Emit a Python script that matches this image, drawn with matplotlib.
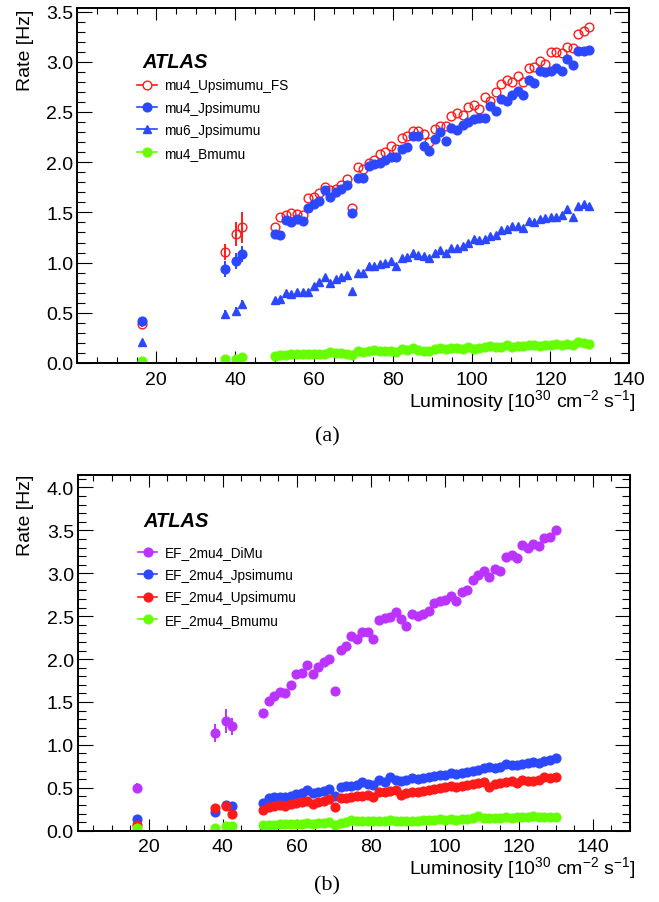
import matplotlib
matplotlib.use("Agg")
import matplotlib.pyplot as plt
from matplotlib.lines import Line2D
from matplotlib.ticker import MultipleLocator

plt.rcParams["font.family"] = ["Liberation Sans", "DejaVu Sans"]
plt.rcParams["mathtext.fontset"] = "custom"
plt.rcParams["mathtext.rm"] = "Liberation Sans"
plt.rcParams["mathtext.it"] = "Liberation Sans:italic"

# ---------------- panel (a) ----------------
a_low_x = [16.3, 37.5, 40.2, 41.7]
a_low_fs = [0.39, 1.11, 1.285, 1.35]
a_low_fs_err = [0.03, 0.08, 0.12, 0.15]
a_low_jpsi = [0.42, 0.935, 1.02, 1.09]
a_low_jpsi_err = [0.03, 0.08, 0.08, 0.08]
a_low_mu6 = [0.205, 0.49, 0.52, 0.59]
a_low_mu6_err = [0.02, 0.04, 0.04, 0.04]
a_low_bmumu = [0.02, 0.04, 0.035, 0.055]
a_low_bmumu_err = [0.01, 0.01, 0.01, 0.01]

a_x = [50.1, 51.5, 52.9, 54.3, 55.7, 57.1, 58.5, 59.9, 61.3, 62.7,
       64.1, 65.5, 66.9, 68.3, 69.7, 71.1, 72.5, 73.9, 75.3, 76.7,
       78.1, 79.5, 80.9, 82.3, 83.7, 85.1, 86.5, 87.9, 89.3, 90.7,
       92.1, 93.5, 94.9, 96.3, 97.7, 99.1, 100.5, 101.9, 103.3, 104.7,
       106.1, 107.5, 108.9, 110.3, 111.7, 113.1, 114.5, 115.9, 117.3, 118.7,
       120.1, 121.5, 122.9, 124.3, 125.7, 127.1, 128.5, 129.9]
a_fs = [1.35, 1.45, 1.47, 1.49, 1.48, 1.47, 1.64, 1.65, 1.69, 1.75,
        1.725, 1.73, 1.775, 1.83, 1.54, 1.95, 1.93, 1.99, 2.025, 2.08,
        2.105, 2.165, 2.13, 2.24, 2.265, 2.315, 2.315, 2.28, 2.20, 2.33,
        2.36, 2.36, 2.46, 2.49, 2.47, 2.55, 2.565, 2.53, 2.645, 2.61,
        2.695, 2.78, 2.82, 2.795, 2.86, 2.795, 2.94, 2.95, 3.01, 2.98,
        3.095, 3.10, 3.085, 3.145, 3.135, 3.28, 3.31, 3.345]
a_jpsi = [1.285, 1.275, 1.42, 1.40, 1.43, 1.41, 1.54, 1.58, 1.61, 1.72,
          1.65, 1.70, 1.73, 1.77, 1.49, 1.84, 1.84, 1.965, 1.98, 1.99,
          2.025, 2.05, 2.055, 2.13, 2.155, 2.26, 2.26, 2.16, 2.115, 2.23,
          2.305, 2.215, 2.34, 2.32, 2.375, 2.40, 2.43, 2.44, 2.44, 2.555,
          2.51, 2.63, 2.61, 2.67, 2.71, 2.67, 2.82, 2.785, 2.905, 2.895,
          2.91, 2.935, 2.91, 3.03, 2.97, 3.11, 3.11, 3.12]
a_mu6 = [0.627, 0.637, 0.697, 0.687, 0.704, 0.704, 0.71, 0.764, 0.804, 0.853,
         0.794, 0.837, 0.853, 0.876, 0.72, 0.896, 0.896, 0.963, 0.963, 0.986,
         0.996, 1.019, 0.969, 1.043, 1.06, 1.10, 1.08, 1.063, 1.046, 1.096,
         1.13, 1.096, 1.145, 1.145, 1.162, 1.20, 1.23, 1.22, 1.23, 1.26,
         1.275, 1.32, 1.33, 1.36, 1.36, 1.34, 1.41, 1.40, 1.435, 1.445,
         1.45, 1.45, 1.47, 1.535, 1.45, 1.56, 1.585, 1.56]
a_bmumu = [0.073, 0.08, 0.08, 0.085, 0.085, 0.09, 0.085, 0.09, 0.09, 0.085,
           0.11, 0.10, 0.10, 0.09, 0.08, 0.12, 0.11, 0.12, 0.13, 0.12,
           0.12, 0.12, 0.11, 0.135, 0.13, 0.145, 0.125, 0.12, 0.12, 0.135,
           0.145, 0.135, 0.145, 0.145, 0.14, 0.155, 0.135, 0.15, 0.16, 0.17,
           0.16, 0.16, 0.175, 0.16, 0.165, 0.17, 0.175, 0.18, 0.165, 0.18,
           0.18, 0.185, 0.18, 0.19, 0.175, 0.205, 0.195, 0.19]
a_labels = ["mu4_Upsimumu_FS", "mu4_Jpsimumu", "mu6_Jpsimumu", "mu4_Bmumu"]

# ---------------- panel (b) ----------------
b_low_x = [16.8, 37.8, 41.0, 42.4]
b_low_dimu = [0.494, 1.139, 1.282, 1.217]
b_low_dimu_err = [0.06, 0.10, 0.14, 0.10]
b_low_jpsi = [0.136, 0.214, 0.303, 0.291]
b_low_jpsi_err = [0.02, 0.02, 0.03, 0.03]
b_low_ups = [0.066, 0.261, 0.284, 0.195]
b_low_ups_err = [0.01, 0.02, 0.03, 0.03]
b_low_bmumu = [0.03, 0.03, 0.05, 0.05]
b_low_bmumu_err = [0.01, 0.01, 0.01, 0.01]

b_x = [50.9, 52.4, 53.9, 55.4, 56.9, 58.4, 59.8, 61.3, 62.8, 64.3,
       65.8, 67.3, 68.8, 70.3, 71.8, 73.3, 74.7, 76.2, 77.7, 79.2,
       80.7, 82.2, 83.7, 85.2, 86.7, 88.2, 89.6, 91.1, 92.6, 94.1,
       95.6, 97.1, 98.6, 100.1, 101.6, 103.1, 104.5, 106.0, 107.5, 109.0,
       110.5, 112.0, 113.5, 115.0, 116.5, 118.0, 119.4, 120.9, 122.4, 123.9,
       125.4, 126.9, 128.4, 129.9]
b_dimu = [1.368, 1.515, 1.573, 1.620, 1.601, 1.702, 1.826, 1.834, 1.935, 1.826,
          1.904, 1.970, 2.001, 1.625, 2.106, 2.156, 2.266, 2.234, 2.312, 2.312,
          2.234, 2.459, 2.475, 2.487, 2.552, 2.467, 2.389, 2.526, 2.506, 2.526,
          2.564, 2.650, 2.673, 2.692, 2.739, 2.681, 2.786, 2.809, 2.925, 2.980,
          3.030, 2.953, 3.050, 3.023, 3.186, 3.217, 3.175, 3.330, 3.295, 3.341,
          3.322, 3.411, 3.420, 3.508]
b_jpsi = [0.319, 0.381, 0.389, 0.389, 0.389, 0.401, 0.428, 0.436, 0.474, 0.436,
          0.455, 0.466, 0.486, 0.408, 0.513, 0.517, 0.524, 0.532, 0.564, 0.544,
          0.532, 0.594, 0.564, 0.622, 0.591, 0.583, 0.591, 0.614, 0.603, 0.610,
          0.622, 0.634, 0.649, 0.649, 0.672, 0.661, 0.672, 0.688, 0.699, 0.711,
          0.727, 0.739, 0.727, 0.746, 0.777, 0.766, 0.766, 0.777, 0.789, 0.804,
          0.789, 0.816, 0.828, 0.844]
b_ups = [0.241, 0.273, 0.292, 0.300, 0.292, 0.311, 0.323, 0.338, 0.340, 0.310,
         0.330, 0.350, 0.365, 0.273, 0.377, 0.377, 0.396, 0.401, 0.408, 0.416,
         0.389, 0.447, 0.455, 0.459, 0.478, 0.416, 0.436, 0.447, 0.455, 0.466,
         0.474, 0.486, 0.494, 0.505, 0.517, 0.505, 0.524, 0.532, 0.544, 0.552,
         0.564, 0.505, 0.544, 0.552, 0.571, 0.575, 0.556, 0.591, 0.583, 0.583,
         0.591, 0.622, 0.614, 0.622]
b_bmumu = [0.066, 0.066, 0.070, 0.075, 0.078, 0.078, 0.078, 0.080, 0.086, 0.078,
           0.086, 0.090, 0.097, 0.066, 0.090, 0.105, 0.128, 0.117, 0.117, 0.109,
           0.117, 0.109, 0.117, 0.128, 0.117, 0.117, 0.117, 0.117, 0.117, 0.128,
           0.128, 0.128, 0.136, 0.128, 0.136, 0.128, 0.136, 0.136, 0.144, 0.167,
           0.144, 0.144, 0.144, 0.148, 0.156, 0.148, 0.156, 0.156, 0.156, 0.167,
           0.156, 0.156, 0.156, 0.156]
b_labels = ["EF_2mu4_DiMu", "EF_2mu4_Jpsimumu", "EF_2mu4_Upsimumu", "EF_2mu4_Bmumu"]

RED = "#ff1a1a"
BLUE = "#2b48ff"
GREEN = "#66ff00"
PURPLE = "#bb33ff"
MS = 6.3
TICK_FS = 14


def style_axes(ax, xlim, ylim):
    ax.set_xlim(*xlim)
    ax.set_ylim(*ylim)
    ax.yaxis.set_major_locator(MultipleLocator(0.5))
    ax.yaxis.set_minor_locator(MultipleLocator(0.1))
    ticks = [20, 40, 60, 80, 100, 120, 140]
    ax.set_xticks(ticks)
    ax.set_xticklabels(["%d" % t for t in ticks])
    ax.xaxis.set_minor_locator(MultipleLocator(5))
    ax.tick_params(which="both", direction="in", top=True, right=True,
                   width=0.8, labelsize=TICK_FS)
    ax.tick_params(axis="x", which="major", length=8.6, pad=5.5)
    ax.tick_params(axis="x", which="minor", length=4.3)
    ax.tick_params(axis="y", which="major", length=10.8, pad=3.0)
    ax.tick_params(axis="y", which="minor", length=5.8)
    for s in ax.spines.values():
        s.set_linewidth(1.4)


def draw(ax, x, y, low_x, low_y, low_err, color, marker, hollow=False):
    mfc = "none" if hollow else color
    ax.errorbar(low_x, low_y, yerr=low_err, fmt=marker, ms=MS, mfc=mfc,
                mec=color, mew=1.0, ecolor=color, elinewidth=1.4, capsize=0)
    ax.plot(x, y, marker, ls="none", ms=MS, mfc=mfc, mec=color, mew=1.0)


def handle(color, marker, hollow=False):
    mfc = "white" if hollow else color
    return Line2D([], [], color=color, lw=1.2, marker=marker, ms=MS,
                  mfc=mfc, mec=color, mew=1.0)


def add_legend(ax, handles, labels, y_atlas):
    ax.text(0.118, y_atlas, "ATLAS", transform=ax.transAxes, fontsize=14.5,
            fontweight="bold", fontstyle="italic", va="center")
    ax.legend(handles, labels, loc="upper left", bbox_to_anchor=(0.108, 0.802),
              frameon=False, fontsize=9.8, handlelength=1.45, handletextpad=0.55,
              labelspacing=0.62, borderpad=0, borderaxespad=0)


fig = plt.figure(figsize=(6.59, 9.03), dpi=100)

# (a)
ax = fig.add_axes([0.1176, 0.5969, 0.8372, 0.3931])
draw(ax, a_x, a_fs, a_low_x, a_low_fs, a_low_fs_err, RED, "o", hollow=True)
draw(ax, a_x, a_jpsi, a_low_x, a_low_jpsi, a_low_jpsi_err, BLUE, "o")
draw(ax, a_x, a_mu6, a_low_x, a_low_mu6, a_low_mu6_err, BLUE, "^")
draw(ax, a_x, a_bmumu, a_low_x, a_low_bmumu, a_low_bmumu_err, GREEN, "o")
style_axes(ax, (0, 140), (0, 3.535))
add_legend(ax, [handle(RED, "o", True), handle(BLUE, "o"), handle(BLUE, "^"),
                handle(GREEN, "o")], a_labels, 0.848)

# (b)
bx = fig.add_axes([0.1184, 0.0790, 0.8376, 0.3939])
draw(bx, b_x, b_dimu, b_low_x, b_low_dimu, b_low_dimu_err, PURPLE, "o")
draw(bx, b_x, b_jpsi, b_low_x, b_low_jpsi, b_low_jpsi_err, BLUE, "o")
draw(bx, b_x, b_ups, b_low_x, b_low_ups, b_low_ups_err, RED, "o")
draw(bx, b_x, b_bmumu, b_low_x, b_low_bmumu, b_low_bmumu_err, GREEN, "o")
style_axes(bx, (0.9, 150), (0, 4.146))
add_legend(bx, [handle(PURPLE, "o"), handle(BLUE, "o"), handle(RED, "o"),
                handle(GREEN, "o")], b_labels, 0.871)

xlab = r"Luminosity [10$^{30}$ cm$^{-2}$ s$^{-1}$]"
for ytop, ybase, tag, ytag in [(10, 407, "(a)", 437), (475, 874, "(b)", 886)]:
    fig.text(25 / 659, 1 - ytop / 903, "Rate [Hz]", rotation=90,
             ha="center", va="top", fontsize=TICK_FS)
    fig.text(636 / 659, 1 - ybase / 903, xlab, ha="right", va="baseline",
             fontsize=TICK_FS)
    fig.text(327 / 659, 1 - ytag / 903, tag, ha="center", va="center",
             fontsize=16, family="Liberation Serif")

fig.savefig("out.png", dpi=100)
